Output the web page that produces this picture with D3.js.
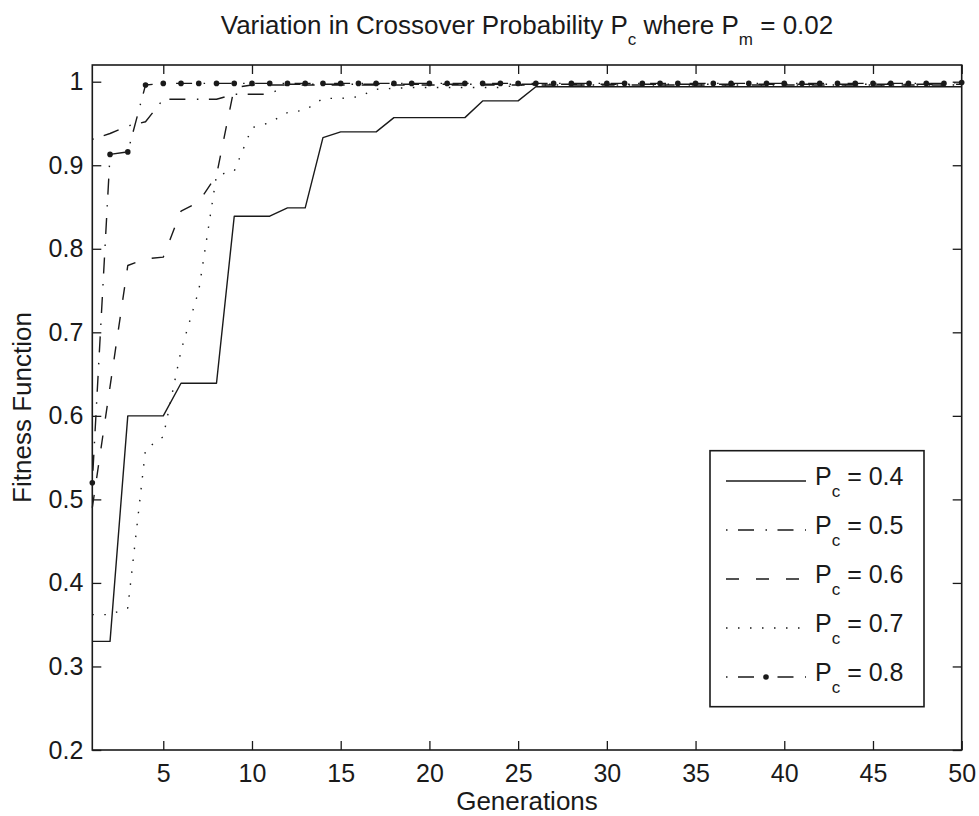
<!DOCTYPE html>
<html>
<head>
<meta charset="utf-8">
<script src="https://cdn.jsdelivr.net/npm/d3@7"></script>
<style>
  html, body { margin: 0; padding: 0; background: #fff; }
  svg { display: block; }
  text { font-family: "Liberation Sans", Arial, Helvetica, sans-serif; fill: #1a1a1a; }
</style>
</head>
<body>
<svg id="chart" width="979" height="816"></svg>
<script>
// Best fitness per generation for each crossover probability (Pm = 0.02)
const pc04 = [0.330, 0.330, 0.600, 0.600, 0.600, 0.639, 0.639, 0.639, 0.839, 0.839,
              0.839, 0.849, 0.849, 0.933, 0.940, 0.940, 0.940, 0.957, 0.957, 0.957,
              0.957, 0.957, 0.977, 0.977, 0.977, 0.994, 0.994, 0.994, 0.994, 0.994,
              0.994, 0.994, 0.994, 0.994, 0.994, 0.994, 0.994, 0.994, 0.994, 0.994,
              0.994, 0.994, 0.994, 0.994, 0.994, 0.994, 0.994, 0.994, 0.994, 0.994];
const pc05 = [0.931, 0.938, 0.947, 0.952, 0.979, 0.979, 0.979, 0.979, 0.985, 0.985,
              0.985, 0.997, 0.997, 0.997, 0.997, 0.997, 0.997, 0.997, 0.997, 0.997,
              0.997, 0.997, 0.997, 0.997, 0.997, 0.997, 0.997, 0.997, 0.997, 0.997,
              0.997, 0.997, 0.997, 0.997, 0.997, 0.997, 0.997, 0.997, 0.997, 0.997,
              0.997, 0.997, 0.997, 0.997, 0.997, 0.997, 0.997, 0.997, 0.997, 0.997];
const pc06 = [0.490, 0.635, 0.780, 0.788, 0.790, 0.845, 0.856, 0.888, 0.993, 0.996,
              0.996, 0.996, 0.996, 0.996, 0.996, 0.996, 0.996, 0.996, 0.996, 0.996,
              0.996, 0.996, 0.996, 0.996, 0.996, 0.996, 0.996, 0.996, 0.996, 0.996,
              0.996, 0.996, 0.996, 0.996, 0.996, 0.996, 0.996, 0.996, 0.996, 0.996,
              0.996, 0.996, 0.996, 0.996, 0.996, 0.996, 0.996, 0.996, 0.996, 0.996];
const pc07 = [0.362, 0.362, 0.370, 0.560, 0.575, 0.678, 0.750, 0.888, 0.893, 0.945,
              0.951, 0.963, 0.966, 0.980, 0.980, 0.982, 0.991, 0.992, 0.993, 0.993,
              0.993, 0.993, 0.993, 0.993, 0.996, 0.996, 0.996, 0.996, 0.996, 0.996,
              0.996, 0.996, 0.996, 0.996, 0.996, 0.996, 0.996, 0.996, 0.996, 0.996,
              0.996, 0.996, 0.996, 0.996, 0.996, 0.996, 0.996, 0.996, 0.996, 0.996];
const pc08 = [0.520, 0.913, 0.916, 0.996, 0.998, 0.998, 0.998, 0.998, 0.998, 0.998,
              0.998, 0.998, 0.998, 0.998, 0.998, 0.998, 0.998, 0.998, 0.998, 0.998,
              0.998, 0.998, 0.998, 0.998, 0.998, 0.998, 0.998, 0.998, 0.998, 0.998,
              0.998, 0.998, 0.998, 0.998, 0.998, 0.998, 0.998, 0.998, 0.998, 0.998,
              0.998, 0.998, 0.998, 0.998, 0.998, 0.998, 0.998, 0.998, 0.998, 0.999];

const seriesNames = ["0.4", "0.5", "0.6", "0.7", "0.8"];
const xTicks = [5, 10, 15, 20, 25, 30, 35, 40, 45, 50];
const yTicks = [0.2, 0.3, 0.4, 0.5, 0.6, 0.7, 0.8, 0.9, 1];

// line styles per series
const styles = [
  { dash: null },
  { dash: "1.5,10.5,16,11.5" },
  { dash: "13,17" },
  { dash: "1.5,10.5" },
  { dash: "1.5,10.5,16,11.5", marker: true }
];

const series = [pc04, pc05, pc06, pc07, pc08].map((vals, k) => ({
  name: seriesNames[k],
  style: styles[k],
  points: vals.map((v, i) => ({ g: i + 1, v }))
}));

const svg = d3.select("#chart");
const plotL = 92.3, plotR = 961.7, plotT = 65, plotB = 750;

const x = d3.scaleLinear().domain([1, 50]).range([plotL, plotR]);
const y = d3.scaleLinear().domain([0.2, 1.02]).range([plotB, plotT]);

const TICK_FONT = 25;
const LABEL_FONT = 26;

// frame
svg.append("rect")
  .attr("x", plotL).attr("y", plotT)
  .attr("width", plotR - plotL).attr("height", plotB - plotT)
  .attr("fill", "none").attr("stroke", "#1a1a1a").attr("stroke-width", 1.6);

// axes with inward ticks on all four sides
const tickLen = 9;
const xAxisB = d3.axisBottom(x).tickValues(xTicks).tickSizeInner(-tickLen).tickSizeOuter(0).tickPadding(14).tickFormat(d3.format("d"));
const xAxisT = d3.axisTop(x).tickValues(xTicks).tickSizeInner(-tickLen).tickSizeOuter(0).tickFormat("");
const yAxisL = d3.axisLeft(y).tickValues(yTicks).tickSizeInner(-tickLen).tickSizeOuter(0).tickPadding(9).tickFormat(d => d === 1 ? "1" : d3.format(".1f")(d));
const yAxisR = d3.axisRight(y).tickValues(yTicks).tickSizeInner(-tickLen).tickSizeOuter(0).tickFormat("");

function styleAxis(g) {
  g.select(".domain").remove();
  g.selectAll(".tick line").attr("stroke", "#1a1a1a").attr("stroke-width", 1.3);
  g.selectAll(".tick text").attr("font-size", TICK_FONT).attr("fill", "#1a1a1a")
    .style("font-family", "'Liberation Sans', Arial, sans-serif");
}
svg.append("g").attr("transform", `translate(0,${plotB})`).call(xAxisB).call(styleAxis);
svg.append("g").attr("transform", `translate(0,${plotT})`).call(xAxisT).call(styleAxis);
svg.append("g").attr("transform", `translate(${plotL},0)`).call(yAxisL).call(styleAxis);
svg.append("g").attr("transform", `translate(${plotR},0)`).call(yAxisR).call(styleAxis);

// series lines
const line = d3.line().x(d => x(d.g)).y(d => y(d.v));
const plot = svg.append("g");
series.forEach(s => {
  plot.append("path")
    .datum(s.points)
    .attr("d", line)
    .attr("fill", "none")
    .attr("stroke", "#1a1a1a")
    .attr("stroke-width", 1.4)
    .attr("stroke-dasharray", s.style.dash)
    .attr("stroke-linejoin", "round");
  if (s.style.marker) {
    plot.selectAll(null).data(s.points).enter().append("circle")
      .attr("cx", d => x(d.g)).attr("cy", d => y(d.v))
      .attr("r", 2.8).attr("fill", "#1a1a1a");
  }
});

// title with subscripts
const title = svg.append("text")
  .attr("x", (plotL + plotR) / 2).attr("y", 33.5)
  .attr("text-anchor", "middle").attr("font-size", LABEL_FONT);
title.append("tspan").text("Variation in Crossover Probability P");
title.append("tspan").attr("dy", 11.5).attr("font-size", 17).text("c");
title.append("tspan").attr("dy", -11.5).text(" where P");
title.append("tspan").attr("dy", 11.5).attr("font-size", 17).text("m");
title.append("tspan").attr("dy", -11.5).text(" = 0.02");

// axis labels
svg.append("text")
  .attr("x", (plotL + plotR) / 2).attr("y", 810)
  .attr("text-anchor", "middle").attr("font-size", LABEL_FONT)
  .text("Generations");
svg.append("text")
  .attr("transform", `translate(31,${(plotT + plotB) / 2}) rotate(-90)`)
  .attr("text-anchor", "middle").attr("font-size", LABEL_FONT)
  .text("Fitness Function");

// legend
const lg = svg.append("g");
const lgX = 710, lgY = 450.7, lgW = 214, lgH = 256;
lg.append("rect").attr("x", lgX).attr("y", lgY).attr("width", lgW).attr("height", lgH)
  .attr("fill", "#fff").attr("stroke", "#1a1a1a").attr("stroke-width", 1.6);
const rowY = d3.scaleLinear().domain([0, 4]).range([481, 677]);
series.forEach((s, k) => {
  const cy = rowY(k);
  lg.append("line")
    .attr("x1", 726).attr("x2", 806).attr("y1", cy).attr("y2", cy)
    .attr("stroke", "#1a1a1a").attr("stroke-width", 1.4)
    .attr("stroke-dasharray", s.style.dash);
  if (s.style.marker) {
    lg.append("circle").attr("cx", 766).attr("cy", cy).attr("r", 2.8).attr("fill", "#1a1a1a");
  }
  const t = lg.append("text").attr("x", 815).attr("y", cy + 3.5).attr("font-size", 25);
  t.append("tspan").text("P");
  t.append("tspan").attr("dy", 12.5).attr("font-size", 17).text("c");
  t.append("tspan").attr("dy", -12.5).text(" = " + s.name);
});
</script>
</body>
</html>
